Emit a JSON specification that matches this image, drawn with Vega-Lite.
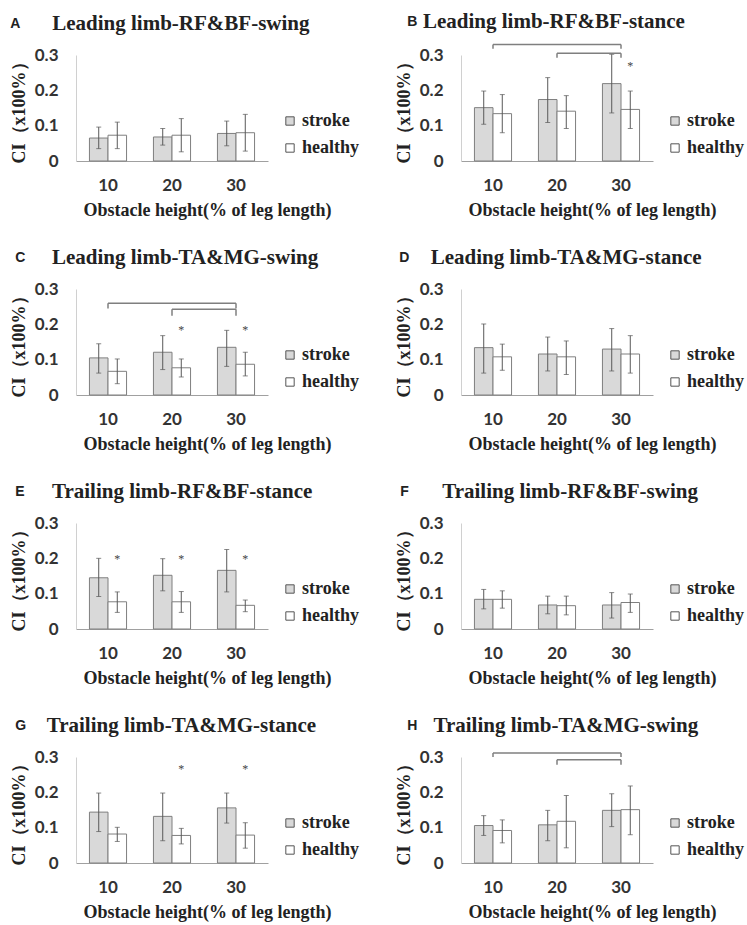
{
"$schema": "https://vega.github.io/schema/vega-lite/v6.json",
"padding": {"left": 10, "top": 10, "right": 2, "bottom": 5},
"background": "white",
"datasets": {
"bars": [
{"p":"A","h":"10","g":"stroke","m":0.065,"lo":0.035,"hi":0.096},
{"p":"A","h":"10","g":"healthy","m":0.073,"lo":0.035,"hi":0.110},
{"p":"A","h":"20","g":"stroke","m":0.068,"lo":0.045,"hi":0.092},
{"p":"A","h":"20","g":"healthy","m":0.073,"lo":0.026,"hi":0.120},
{"p":"A","h":"30","g":"stroke","m":0.078,"lo":0.043,"hi":0.113},
{"p":"A","h":"30","g":"healthy","m":0.080,"lo":0.028,"hi":0.132},
{"p":"B","h":"10","g":"stroke","m":0.151,"lo":0.104,"hi":0.198},
{"p":"B","h":"10","g":"healthy","m":0.134,"lo":0.080,"hi":0.188},
{"p":"B","h":"20","g":"stroke","m":0.174,"lo":0.109,"hi":0.236},
{"p":"B","h":"20","g":"healthy","m":0.141,"lo":0.092,"hi":0.185},
{"p":"B","h":"30","g":"stroke","m":0.219,"lo":0.136,"hi":0.302},
{"p":"B","h":"30","g":"healthy","m":0.146,"lo":0.092,"hi":0.198},
{"p":"C","h":"10","g":"stroke","m":0.105,"lo":0.062,"hi":0.145},
{"p":"C","h":"10","g":"healthy","m":0.067,"lo":0.032,"hi":0.102},
{"p":"C","h":"20","g":"stroke","m":0.121,"lo":0.072,"hi":0.168},
{"p":"C","h":"20","g":"healthy","m":0.077,"lo":0.051,"hi":0.102},
{"p":"C","h":"30","g":"stroke","m":0.135,"lo":0.081,"hi":0.183},
{"p":"C","h":"30","g":"healthy","m":0.087,"lo":0.054,"hi":0.121},
{"p":"D","h":"10","g":"stroke","m":0.134,"lo":0.062,"hi":0.201},
{"p":"D","h":"10","g":"healthy","m":0.108,"lo":0.070,"hi":0.144},
{"p":"D","h":"20","g":"stroke","m":0.116,"lo":0.068,"hi":0.164},
{"p":"D","h":"20","g":"healthy","m":0.108,"lo":0.058,"hi":0.153},
{"p":"D","h":"30","g":"stroke","m":0.130,"lo":0.068,"hi":0.188},
{"p":"D","h":"30","g":"healthy","m":0.116,"lo":0.062,"hi":0.168},
{"p":"E","h":"10","g":"stroke","m":0.145,"lo":0.092,"hi":0.200},
{"p":"E","h":"10","g":"healthy","m":0.077,"lo":0.047,"hi":0.105},
{"p":"E","h":"20","g":"stroke","m":0.152,"lo":0.108,"hi":0.199},
{"p":"E","h":"20","g":"healthy","m":0.077,"lo":0.047,"hi":0.106},
{"p":"E","h":"30","g":"stroke","m":0.166,"lo":0.105,"hi":0.225},
{"p":"E","h":"30","g":"healthy","m":0.067,"lo":0.049,"hi":0.082},
{"p":"F","h":"10","g":"stroke","m":0.084,"lo":0.057,"hi":0.112},
{"p":"F","h":"10","g":"healthy","m":0.084,"lo":0.059,"hi":0.108},
{"p":"F","h":"20","g":"stroke","m":0.068,"lo":0.043,"hi":0.093},
{"p":"F","h":"20","g":"healthy","m":0.066,"lo":0.040,"hi":0.093},
{"p":"F","h":"30","g":"stroke","m":0.068,"lo":0.031,"hi":0.103},
{"p":"F","h":"30","g":"healthy","m":0.075,"lo":0.047,"hi":0.099},
{"p":"G","h":"10","g":"stroke","m":0.144,"lo":0.089,"hi":0.198},
{"p":"G","h":"10","g":"healthy","m":0.082,"lo":0.061,"hi":0.101},
{"p":"G","h":"20","g":"stroke","m":0.132,"lo":0.063,"hi":0.198},
{"p":"G","h":"20","g":"healthy","m":0.078,"lo":0.054,"hi":0.098},
{"p":"G","h":"30","g":"stroke","m":0.156,"lo":0.113,"hi":0.198},
{"p":"G","h":"30","g":"healthy","m":0.079,"lo":0.042,"hi":0.114},
{"p":"H","h":"10","g":"stroke","m":0.106,"lo":0.078,"hi":0.134},
{"p":"H","h":"10","g":"healthy","m":0.092,"lo":0.057,"hi":0.122},
{"p":"H","h":"20","g":"stroke","m":0.108,"lo":0.063,"hi":0.149},
{"p":"H","h":"20","g":"healthy","m":0.118,"lo":0.043,"hi":0.191},
{"p":"H","h":"30","g":"stroke","m":0.149,"lo":0.103,"hi":0.196},
{"p":"H","h":"30","g":"healthy","m":0.151,"lo":0.080,"hi":0.218}
],
"stars": [
{"p":"B","h":"30","g":"healthy","y":0.27},
{"p":"C","h":"20","g":"healthy","y":0.185},
{"p":"C","h":"30","g":"healthy","y":0.185},
{"p":"E","h":"10","g":"healthy","y":0.199},
{"p":"E","h":"20","g":"healthy","y":0.199},
{"p":"E","h":"30","g":"healthy","y":0.199},
{"p":"G","h":"20","g":"healthy","y":0.267},
{"p":"G","h":"30","g":"healthy","y":0.267}
],
"br": [
{"p":"B","a":"10","b":"30","y":0.330,"y2":0.318},
{"p":"B","a":"20","b":"30","y":0.305,"y2":0.292},
{"p":"C","a":"10","b":"30","y":0.260,"y2":0.245},
{"p":"C","a":"20","b":"30","y":0.243,"y2":0.224},
{"p":"H","a":"10","b":"30","y":0.311,"y2":0.300},
{"p":"H","a":"20","b":"30","y":0.292,"y2":0.278}
]
},
"columns": 2,
"spacing": {"row": 28, "column": 35},
"resolve": {"scale": {"fill": "independent"}, "legend": {"fill": "independent"}},
"concat": [
{"width":192,"height":106,
 "title":{"text":"A","dx":0,"subtitle":"\u200b\u00a0\u00a0\u00a0\u00a0\u00a0\u00a0\u00a0\u00a0Leading limb-RF&BF-swing"},
 "layer":[
  {"data":{"name":"bars"},"transform":[{"filter":"datum.p=='A'"}],"mark":{"type":"bar","stroke":"#7f7f7f","strokeWidth":1},
   "encoding":{"x":{"field":"h","type":"nominal","scale":{"domain":["10","20","30"],"paddingInner":0.42,"paddingOuter":0.21},"title":"Obstacle height(% of leg length)"},
    "xOffset":{"field":"g","type":"nominal","scale":{"domain":["stroke","healthy"],"paddingInner":0,"paddingOuter":0}},
    "y":{"field":"m","type":"quantitative","scale":{"domain":[0,0.3],"nice":false},"axis":{"format":"~g"},"title":"CI（x100%）"},
    "fill":{"field":"g","type":"nominal","scale":{"domain":["stroke","healthy"],"range":["#d9d9d9","#ffffff"]},"legend":{"orient":"none","legendX":205,"legendY":57,"title":null}}}},
  {"data":{"name":"bars"},"transform":[{"filter":"datum.p=='A'"}],"mark":{"type":"rule","color":"#595959","strokeWidth":1},
   "encoding":{"x":{"field":"h","type":"nominal","scale":{"domain":["10","20","30"]}},"xOffset":{"field":"g","type":"nominal","scale":{"domain":["stroke","healthy"]}},"y":{"field":"lo","type":"quantitative"},"y2":{"field":"hi"}}},
  {"data":{"name":"bars"},"transform":[{"filter":"datum.p=='A'"},{"fold":["lo","hi"],"as":["k","v"]}],"mark":{"type":"tick","color":"#595959","size":5,"thickness":1},
   "encoding":{"x":{"field":"h","type":"nominal","scale":{"domain":["10","20","30"]}},"xOffset":{"field":"g","type":"nominal","scale":{"domain":["stroke","healthy"]}},"y":{"field":"v","type":"quantitative"}}}
 ]},
{"width":192,"height":106,
 "title":{"text":"B","dx":12,"subtitle":"\u200b\u00a0\u00a0\u00a0Leading limb-RF&BF-stance"},
 "layer":[
  {"data":{"name":"bars"},"transform":[{"filter":"datum.p=='B'"}],"mark":{"type":"bar","stroke":"#7f7f7f","strokeWidth":1},
   "encoding":{"x":{"field":"h","type":"nominal","scale":{"domain":["10","20","30"],"paddingInner":0.42,"paddingOuter":0.21},"title":"Obstacle height(% of leg length)"},
    "xOffset":{"field":"g","type":"nominal","scale":{"domain":["stroke","healthy"],"paddingInner":0,"paddingOuter":0}},
    "y":{"field":"m","type":"quantitative","scale":{"domain":[0,0.3],"nice":false},"axis":{"format":"~g"},"title":"CI（x100%）"},
    "fill":{"field":"g","type":"nominal","scale":{"domain":["stroke","healthy"],"range":["#d9d9d9","#ffffff"]},"legend":{"orient":"none","legendX":205,"legendY":57,"title":null}}}},
  {"data":{"name":"bars"},"transform":[{"filter":"datum.p=='B'"}],"mark":{"type":"rule","color":"#595959","strokeWidth":1},
   "encoding":{"x":{"field":"h","type":"nominal","scale":{"domain":["10","20","30"]}},"xOffset":{"field":"g","type":"nominal","scale":{"domain":["stroke","healthy"]}},"y":{"field":"lo","type":"quantitative"},"y2":{"field":"hi"}}},
  {"data":{"name":"bars"},"transform":[{"filter":"datum.p=='B'"},{"fold":["lo","hi"],"as":["k","v"]}],"mark":{"type":"tick","color":"#595959","size":5,"thickness":1},
   "encoding":{"x":{"field":"h","type":"nominal","scale":{"domain":["10","20","30"]}},"xOffset":{"field":"g","type":"nominal","scale":{"domain":["stroke","healthy"]}},"y":{"field":"v","type":"quantitative"}}},
  {"data":{"name":"stars"},"transform":[{"filter":"datum.p=='B'"}],"mark":{"type":"text","text":"*","fontSize":12,"color":"#444444"},
   "encoding":{"x":{"field":"h","type":"nominal","scale":{"domain":["10","20","30"]}},"xOffset":{"field":"g","type":"nominal","scale":{"domain":["stroke","healthy"]}},"y":{"field":"y","type":"quantitative"}}},
  {"data":{"name":"br"},"transform":[{"filter":"datum.p=='B'"}],"mark":{"type":"rule","color":"#7f7f7f","strokeWidth":1.5},
   "encoding":{"x":{"field":"a","type":"nominal","scale":{"domain":["10","20","30"]}},"x2":{"field":"b"},"y":{"field":"y","type":"quantitative"}}},
  {"data":{"name":"br"},"transform":[{"filter":"datum.p=='B'"},{"fold":["a","b"],"as":["k","xv"]}],"mark":{"type":"rule","color":"#7f7f7f","strokeWidth":1.5},
   "encoding":{"x":{"field":"xv","type":"nominal","scale":{"domain":["10","20","30"]}},"y":{"field":"y","type":"quantitative"},"y2":{"field":"y2"}}}
 ]},
{"width":192,"height":106,
 "title":{"text":"C","dx":5,"subtitle":"\u200b\u00a0\u00a0\u00a0\u00a0\u00a0\u00a0\u00a0Leading limb-TA&MG-swing"},
 "layer":[
  {"data":{"name":"bars"},"transform":[{"filter":"datum.p=='C'"}],"mark":{"type":"bar","stroke":"#7f7f7f","strokeWidth":1},
   "encoding":{"x":{"field":"h","type":"nominal","scale":{"domain":["10","20","30"],"paddingInner":0.42,"paddingOuter":0.21},"title":"Obstacle height(% of leg length)"},
    "xOffset":{"field":"g","type":"nominal","scale":{"domain":["stroke","healthy"],"paddingInner":0,"paddingOuter":0}},
    "y":{"field":"m","type":"quantitative","scale":{"domain":[0,0.3],"nice":false},"axis":{"format":"~g"},"title":"CI（x100%）"},
    "fill":{"field":"g","type":"nominal","scale":{"domain":["stroke","healthy"],"range":["#d9d9d9","#ffffff"]},"legend":{"orient":"none","legendX":205,"legendY":57,"title":null}}}},
  {"data":{"name":"bars"},"transform":[{"filter":"datum.p=='C'"}],"mark":{"type":"rule","color":"#595959","strokeWidth":1},
   "encoding":{"x":{"field":"h","type":"nominal","scale":{"domain":["10","20","30"]}},"xOffset":{"field":"g","type":"nominal","scale":{"domain":["stroke","healthy"]}},"y":{"field":"lo","type":"quantitative"},"y2":{"field":"hi"}}},
  {"data":{"name":"bars"},"transform":[{"filter":"datum.p=='C'"},{"fold":["lo","hi"],"as":["k","v"]}],"mark":{"type":"tick","color":"#595959","size":5,"thickness":1},
   "encoding":{"x":{"field":"h","type":"nominal","scale":{"domain":["10","20","30"]}},"xOffset":{"field":"g","type":"nominal","scale":{"domain":["stroke","healthy"]}},"y":{"field":"v","type":"quantitative"}}},
  {"data":{"name":"stars"},"transform":[{"filter":"datum.p=='C'"}],"mark":{"type":"text","text":"*","fontSize":12,"color":"#444444"},
   "encoding":{"x":{"field":"h","type":"nominal","scale":{"domain":["10","20","30"]}},"xOffset":{"field":"g","type":"nominal","scale":{"domain":["stroke","healthy"]}},"y":{"field":"y","type":"quantitative"}}},
  {"data":{"name":"br"},"transform":[{"filter":"datum.p=='C'"}],"mark":{"type":"rule","color":"#7f7f7f","strokeWidth":1.5},
   "encoding":{"x":{"field":"a","type":"nominal","scale":{"domain":["10","20","30"]}},"x2":{"field":"b"},"y":{"field":"y","type":"quantitative"}}},
  {"data":{"name":"br"},"transform":[{"filter":"datum.p=='C'"},{"fold":["a","b"],"as":["k","xv"]}],"mark":{"type":"rule","color":"#7f7f7f","strokeWidth":1.5},
   "encoding":{"x":{"field":"xv","type":"nominal","scale":{"domain":["10","20","30"]}},"y":{"field":"y","type":"quantitative"},"y2":{"field":"y2"}}}
 ]},
{"width":192,"height":106,
 "title":{"text":"D","dx":4,"subtitle":"\u200b\u00a0\u00a0\u00a0\u00a0\u00a0\u00a0Leading limb-TA&MG-stance"},
 "layer":[
  {"data":{"name":"bars"},"transform":[{"filter":"datum.p=='D'"}],"mark":{"type":"bar","stroke":"#7f7f7f","strokeWidth":1},
   "encoding":{"x":{"field":"h","type":"nominal","scale":{"domain":["10","20","30"],"paddingInner":0.42,"paddingOuter":0.21},"title":"Obstacle height(% of leg length)"},
    "xOffset":{"field":"g","type":"nominal","scale":{"domain":["stroke","healthy"],"paddingInner":0,"paddingOuter":0}},
    "y":{"field":"m","type":"quantitative","scale":{"domain":[0,0.3],"nice":false},"axis":{"format":"~g"},"title":"CI（x100%）"},
    "fill":{"field":"g","type":"nominal","scale":{"domain":["stroke","healthy"],"range":["#d9d9d9","#ffffff"]},"legend":{"orient":"none","legendX":205,"legendY":57,"title":null}}}},
  {"data":{"name":"bars"},"transform":[{"filter":"datum.p=='D'"}],"mark":{"type":"rule","color":"#595959","strokeWidth":1},
   "encoding":{"x":{"field":"h","type":"nominal","scale":{"domain":["10","20","30"]}},"xOffset":{"field":"g","type":"nominal","scale":{"domain":["stroke","healthy"]}},"y":{"field":"lo","type":"quantitative"},"y2":{"field":"hi"}}},
  {"data":{"name":"bars"},"transform":[{"filter":"datum.p=='D'"},{"fold":["lo","hi"],"as":["k","v"]}],"mark":{"type":"tick","color":"#595959","size":5,"thickness":1},
   "encoding":{"x":{"field":"h","type":"nominal","scale":{"domain":["10","20","30"]}},"xOffset":{"field":"g","type":"nominal","scale":{"domain":["stroke","healthy"]}},"y":{"field":"v","type":"quantitative"}}}
 ]},
{"width":192,"height":106,
 "title":{"text":"E","dx":5,"subtitle":"\u200b\u00a0\u00a0\u00a0\u00a0\u00a0\u00a0\u00a0Trailing limb-RF&BF-stance"},
 "layer":[
  {"data":{"name":"bars"},"transform":[{"filter":"datum.p=='E'"}],"mark":{"type":"bar","stroke":"#7f7f7f","strokeWidth":1},
   "encoding":{"x":{"field":"h","type":"nominal","scale":{"domain":["10","20","30"],"paddingInner":0.42,"paddingOuter":0.21},"title":"Obstacle height(% of leg length)"},
    "xOffset":{"field":"g","type":"nominal","scale":{"domain":["stroke","healthy"],"paddingInner":0,"paddingOuter":0}},
    "y":{"field":"m","type":"quantitative","scale":{"domain":[0,0.3],"nice":false},"axis":{"format":"~g"},"title":"CI（x100%）"},
    "fill":{"field":"g","type":"nominal","scale":{"domain":["stroke","healthy"],"range":["#d9d9d9","#ffffff"]},"legend":{"orient":"none","legendX":205,"legendY":57,"title":null}}}},
  {"data":{"name":"bars"},"transform":[{"filter":"datum.p=='E'"}],"mark":{"type":"rule","color":"#595959","strokeWidth":1},
   "encoding":{"x":{"field":"h","type":"nominal","scale":{"domain":["10","20","30"]}},"xOffset":{"field":"g","type":"nominal","scale":{"domain":["stroke","healthy"]}},"y":{"field":"lo","type":"quantitative"},"y2":{"field":"hi"}}},
  {"data":{"name":"bars"},"transform":[{"filter":"datum.p=='E'"},{"fold":["lo","hi"],"as":["k","v"]}],"mark":{"type":"tick","color":"#595959","size":5,"thickness":1},
   "encoding":{"x":{"field":"h","type":"nominal","scale":{"domain":["10","20","30"]}},"xOffset":{"field":"g","type":"nominal","scale":{"domain":["stroke","healthy"]}},"y":{"field":"v","type":"quantitative"}}},
  {"data":{"name":"stars"},"transform":[{"filter":"datum.p=='E'"}],"mark":{"type":"text","text":"*","fontSize":12,"color":"#444444"},
   "encoding":{"x":{"field":"h","type":"nominal","scale":{"domain":["10","20","30"]}},"xOffset":{"field":"g","type":"nominal","scale":{"domain":["stroke","healthy"]}},"y":{"field":"y","type":"quantitative"}}}
 ]},
{"width":192,"height":106,
 "title":{"text":"F","dx":5,"subtitle":"\u200b\u00a0\u00a0\u00a0\u00a0\u00a0\u00a0\u00a0\u00a0Trailing limb-RF&BF-swing"},
 "layer":[
  {"data":{"name":"bars"},"transform":[{"filter":"datum.p=='F'"}],"mark":{"type":"bar","stroke":"#7f7f7f","strokeWidth":1},
   "encoding":{"x":{"field":"h","type":"nominal","scale":{"domain":["10","20","30"],"paddingInner":0.42,"paddingOuter":0.21},"title":"Obstacle height(% of leg length)"},
    "xOffset":{"field":"g","type":"nominal","scale":{"domain":["stroke","healthy"],"paddingInner":0,"paddingOuter":0}},
    "y":{"field":"m","type":"quantitative","scale":{"domain":[0,0.3],"nice":false},"axis":{"format":"~g"},"title":"CI（x100%）"},
    "fill":{"field":"g","type":"nominal","scale":{"domain":["stroke","healthy"],"range":["#d9d9d9","#ffffff"]},"legend":{"orient":"none","legendX":205,"legendY":57,"title":null}}}},
  {"data":{"name":"bars"},"transform":[{"filter":"datum.p=='F'"}],"mark":{"type":"rule","color":"#595959","strokeWidth":1},
   "encoding":{"x":{"field":"h","type":"nominal","scale":{"domain":["10","20","30"]}},"xOffset":{"field":"g","type":"nominal","scale":{"domain":["stroke","healthy"]}},"y":{"field":"lo","type":"quantitative"},"y2":{"field":"hi"}}},
  {"data":{"name":"bars"},"transform":[{"filter":"datum.p=='F'"},{"fold":["lo","hi"],"as":["k","v"]}],"mark":{"type":"tick","color":"#595959","size":5,"thickness":1},
   "encoding":{"x":{"field":"h","type":"nominal","scale":{"domain":["10","20","30"]}},"xOffset":{"field":"g","type":"nominal","scale":{"domain":["stroke","healthy"]}},"y":{"field":"v","type":"quantitative"}}}
 ]},
{"width":192,"height":106,
 "title":{"text":"G","dx":5,"subtitle":"\u200b\u00a0\u00a0\u00a0\u00a0\u00a0\u00a0Trailing limb-TA&MG-stance"},
 "layer":[
  {"data":{"name":"bars"},"transform":[{"filter":"datum.p=='G'"}],"mark":{"type":"bar","stroke":"#7f7f7f","strokeWidth":1},
   "encoding":{"x":{"field":"h","type":"nominal","scale":{"domain":["10","20","30"],"paddingInner":0.42,"paddingOuter":0.21},"title":"Obstacle height(% of leg length)"},
    "xOffset":{"field":"g","type":"nominal","scale":{"domain":["stroke","healthy"],"paddingInner":0,"paddingOuter":0}},
    "y":{"field":"m","type":"quantitative","scale":{"domain":[0,0.3],"nice":false},"axis":{"format":"~g"},"title":"CI（x100%）"},
    "fill":{"field":"g","type":"nominal","scale":{"domain":["stroke","healthy"],"range":["#d9d9d9","#ffffff"]},"legend":{"orient":"none","legendX":205,"legendY":57,"title":null}}}},
  {"data":{"name":"bars"},"transform":[{"filter":"datum.p=='G'"}],"mark":{"type":"rule","color":"#595959","strokeWidth":1},
   "encoding":{"x":{"field":"h","type":"nominal","scale":{"domain":["10","20","30"]}},"xOffset":{"field":"g","type":"nominal","scale":{"domain":["stroke","healthy"]}},"y":{"field":"lo","type":"quantitative"},"y2":{"field":"hi"}}},
  {"data":{"name":"bars"},"transform":[{"filter":"datum.p=='G'"},{"fold":["lo","hi"],"as":["k","v"]}],"mark":{"type":"tick","color":"#595959","size":5,"thickness":1},
   "encoding":{"x":{"field":"h","type":"nominal","scale":{"domain":["10","20","30"]}},"xOffset":{"field":"g","type":"nominal","scale":{"domain":["stroke","healthy"]}},"y":{"field":"v","type":"quantitative"}}},
  {"data":{"name":"stars"},"transform":[{"filter":"datum.p=='G'"}],"mark":{"type":"text","text":"*","fontSize":12,"color":"#444444"},
   "encoding":{"x":{"field":"h","type":"nominal","scale":{"domain":["10","20","30"]}},"xOffset":{"field":"g","type":"nominal","scale":{"domain":["stroke","healthy"]}},"y":{"field":"y","type":"quantitative"}}}
 ]},
{"width":192,"height":106,
 "title":{"text":"H","dx":12,"subtitle":"\u200b\u00a0\u00a0\u00a0\u00a0\u00a0Trailing limb-TA&MG-swing"},
 "layer":[
  {"data":{"name":"bars"},"transform":[{"filter":"datum.p=='H'"}],"mark":{"type":"bar","stroke":"#7f7f7f","strokeWidth":1},
   "encoding":{"x":{"field":"h","type":"nominal","scale":{"domain":["10","20","30"],"paddingInner":0.42,"paddingOuter":0.21},"title":"Obstacle height(% of leg length)"},
    "xOffset":{"field":"g","type":"nominal","scale":{"domain":["stroke","healthy"],"paddingInner":0,"paddingOuter":0}},
    "y":{"field":"m","type":"quantitative","scale":{"domain":[0,0.3],"nice":false},"axis":{"format":"~g"},"title":"CI（x100%）"},
    "fill":{"field":"g","type":"nominal","scale":{"domain":["stroke","healthy"],"range":["#d9d9d9","#ffffff"]},"legend":{"orient":"none","legendX":205,"legendY":57,"title":null}}}},
  {"data":{"name":"bars"},"transform":[{"filter":"datum.p=='H'"}],"mark":{"type":"rule","color":"#595959","strokeWidth":1},
   "encoding":{"x":{"field":"h","type":"nominal","scale":{"domain":["10","20","30"]}},"xOffset":{"field":"g","type":"nominal","scale":{"domain":["stroke","healthy"]}},"y":{"field":"lo","type":"quantitative"},"y2":{"field":"hi"}}},
  {"data":{"name":"bars"},"transform":[{"filter":"datum.p=='H'"},{"fold":["lo","hi"],"as":["k","v"]}],"mark":{"type":"tick","color":"#595959","size":5,"thickness":1},
   "encoding":{"x":{"field":"h","type":"nominal","scale":{"domain":["10","20","30"]}},"xOffset":{"field":"g","type":"nominal","scale":{"domain":["stroke","healthy"]}},"y":{"field":"v","type":"quantitative"}}},
  {"data":{"name":"br"},"transform":[{"filter":"datum.p=='H'"}],"mark":{"type":"rule","color":"#7f7f7f","strokeWidth":1.5},
   "encoding":{"x":{"field":"a","type":"nominal","scale":{"domain":["10","20","30"]}},"x2":{"field":"b"},"y":{"field":"y","type":"quantitative"}}},
  {"data":{"name":"br"},"transform":[{"filter":"datum.p=='H'"},{"fold":["a","b"],"as":["k","xv"]}],"mark":{"type":"rule","color":"#7f7f7f","strokeWidth":1.5},
   "encoding":{"x":{"field":"xv","type":"nominal","scale":{"domain":["10","20","30"]}},"y":{"field":"y","type":"quantitative"},"y2":{"field":"y2"}}}
 ]}
],
"config": {
 "view": {"stroke": null},
 "font": "Liberation Serif",
 "title": {"anchor": "start", "frame": "bounds", "font": "Liberation Sans", "fontSize": 14, "fontWeight": "bold", "color": "#222222",
   "subtitleFont": "Liberation Serif", "subtitleFontSize": 21, "subtitleFontWeight": "bold", "subtitleColor": "#222222", "subtitlePadding": -18, "offset": 8},
 "axisX": {"domainColor": "#a0a0a0", "domainWidth": 1, "ticks": false, "tickSize": 0, "labelAngle": 0, "labelFont": "Lato", "labelFontWeight": "bold", "labelFontSize": 17, "labelColor": "#333333", "labelPadding": 16,
   "titleFont": "Liberation Serif", "titleFontSize": 18, "titleFontWeight": "bold", "titleColor": "#222222", "titlePadding": 8, "titleX": 131},
 "axisY": {"domainColor": "#d0d0d0", "domainWidth": 1, "ticks": false, "tickSize": 0, "grid": false, "labelFont": "Lato", "labelFontWeight": "bold", "labelFontSize": 17, "labelColor": "#333333", "labelPadding": 18,
   "titleFont": "Liberation Serif", "titleFontSize": 18, "titleFontWeight": "bold", "titleColor": "#222222", "titlePadding": 6},
 "legend": {"symbolType": "square", "symbolSize": 70, "symbolStrokeColor": "#555555", "symbolStrokeWidth": 1, "labelFont": "Liberation Serif", "labelFontWeight": "bold", "labelFontSize": 18, "labelColor": "#222222", "rowPadding": 9, "labelOffset": 3}
}
}
